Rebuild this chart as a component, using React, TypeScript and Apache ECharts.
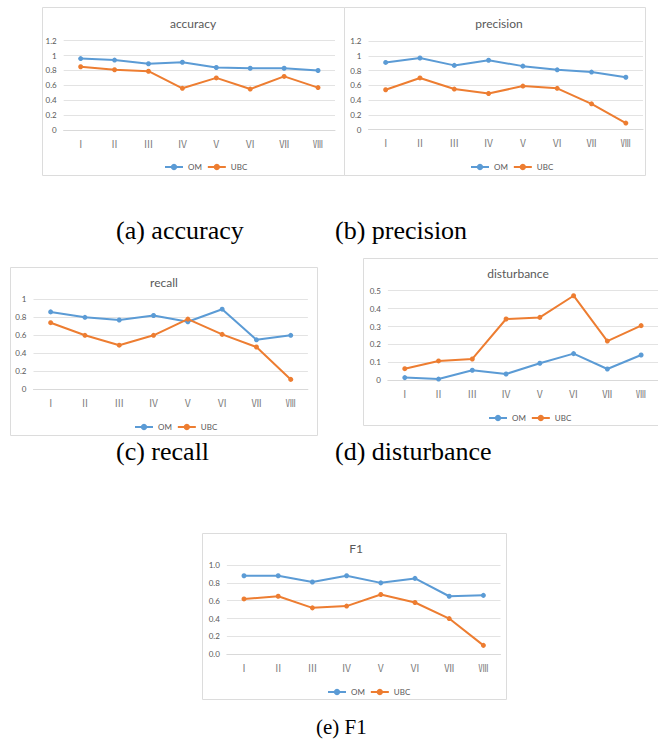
import React, { useEffect, useRef } from "react";
import * as echarts from "echarts";

const categories = ["Ⅰ", "Ⅱ", "Ⅲ", "Ⅳ", "Ⅴ", "Ⅵ", "Ⅶ", "Ⅷ"];
const seriesNames = ["OM", "UBC"];

const accuracyOM = [0.96, 0.94, 0.89, 0.91, 0.84, 0.83, 0.83, 0.8];
const accuracyUBC = [0.85, 0.81, 0.79, 0.56, 0.7, 0.55, 0.72, 0.57];
const precisionOM = [0.91, 0.97, 0.87, 0.94, 0.86, 0.81, 0.78, 0.71];
const precisionUBC = [0.54, 0.7, 0.55, 0.49, 0.59, 0.56, 0.35, 0.09];
const recallOM = [0.86, 0.8, 0.77, 0.82, 0.75, 0.89, 0.55, 0.6];
const recallUBC = [0.74, 0.6, 0.49, 0.6, 0.78, 0.61, 0.47, 0.11];
const disturbanceOM = [0.015, 0.007, 0.056, 0.035, 0.095, 0.149, 0.063, 0.141];
const disturbanceUBC = [0.065, 0.108, 0.119, 0.342, 0.351, 0.472, 0.219, 0.305];
const f1OM = [0.88, 0.88, 0.81, 0.88, 0.8, 0.85, 0.65, 0.66];
const f1UBC = [0.62, 0.65, 0.52, 0.54, 0.67, 0.58, 0.4, 0.1];

const titles = ["accuracy", "precision", "recall", "disturbance", "F1"];
const captions = ["(a) accuracy", "(b) precision", "(c) recall", "(d) disturbance", "(e) F1"];
const yMax = [1.2, 1.2, 1, 0.5, 1];
const yInterval = [0.2, 0.2, 0.2, 0.1, 0.2];
const yDecimals = [-1, -1, -1, -1, 1];

const omData = [accuracyOM, precisionOM, recallOM, disturbanceOM, f1OM];
const ubcData = [accuracyUBC, precisionUBC, recallUBC, disturbanceUBC, f1UBC];

// layout (positions only)
const panels = [
  { box: [42, 7, 302, 168], grid: [63.7, 40.7, 271.3, 89.3], title: [193, 23], legend: [159, 162], caption: [116, 230, 26] },
  { box: [344, 7, 301, 168], grid: [368.5, 41, 274.5, 88.7], title: [499, 23], legend: [465, 162], caption: [335, 230, 26] },
  { box: [10, 267, 307, 168], grid: [33.5, 299.3, 274.4, 90], title: [164, 282], legend: [129, 422], caption: [116, 451, 26] },
  { box: [363, 258, 300, 167], grid: [387.9, 290.7, 274.9, 89.6], title: [518, 273.5], legend: [483, 413], caption: [335, 451, 26] },
  { box: [202, 533, 304, 166], grid: [226.9, 565, 273.6, 89.3], title: [356, 548.5], legend: [322, 687], caption: [316, 727, 21] },
];

const BLUE = "#5b9bd5";
const ORANGE = "#ed7d31";
const GRAY = "#595959";

export default function App() {
  const ref = useRef<HTMLDivElement>(null);
  useEffect(() => {
    if (!ref.current) return;
    const chart = echarts.init(ref.current, undefined, { renderer: "svg" });
    const grid: any[] = [];
    const xAxis: any[] = [];
    const yAxis: any[] = [];
    const series: any[] = [];
    const legend: any[] = [];
    const graphic: any[] = [];
    panels.forEach((p, i) => {
      grid.push({ left: p.grid[0], top: p.grid[1], width: p.grid[2], height: p.grid[3] });
      xAxis.push({
        type: "category",
        gridIndex: i,
        data: categories,
        boundaryGap: true,
        axisLine: { show: true, lineStyle: { color: "#d9d9d9", width: 1 } },
        axisTick: { show: false },
        axisLabel: { color: "#7f7f7f", fontSize: 10, fontFamily: "Noto Sans CJK SC", margin: 8 },
      });
      yAxis.push({
        type: "value",
        gridIndex: i,
        min: 0,
        max: yMax[i],
        interval: yInterval[i],
        axisLine: { show: false },
        axisTick: { show: false },
        splitLine: { lineStyle: { color: "#e3e3e3", width: 1 } },
        axisLabel: {
          color: GRAY,
          fontSize: 8,
          fontFamily: "Lato",
          margin: 7,
          formatter: (v: number) => (yDecimals[i] > 0 ? v.toFixed(yDecimals[i]) : String(Math.round(v * 10) / 10)),
        },
      });
      [omData[i], ubcData[i]].forEach((d, k) => {
        series.push({
          type: "line",
          name: seriesNames[k],
          xAxisIndex: i,
          yAxisIndex: i,
          data: d,
          symbol: "circle",
          symbolSize: 5,
          lineStyle: { width: 2, color: k === 0 ? BLUE : ORANGE },
          itemStyle: { color: k === 0 ? BLUE : ORANGE },
        });
      });
      legend.push({
        data: seriesNames,
        left: p.legend[0],
        top: p.legend[1] - 4,
        itemWidth: 18,
        itemHeight: 8,
        itemGap: 5,
        textStyle: { color: GRAY, fontSize: 8, fontFamily: "Lato" },
        selectedMode: false,
      });
      graphic.push({
        type: "rect",
        shape: { x: p.box[0] + 0.5, y: p.box[1] + 0.5, width: p.box[2], height: p.box[3] },
        style: { fill: "none", stroke: "#dcdcdc", lineWidth: 1 },
        silent: true,
        z: -10,
      });
      graphic.push({
        type: "text",
        x: p.title[0],
        y: p.title[1],
        style: {
          text: titles[i],
          fill: GRAY,
          fontSize: 12,
          fontFamily: "Lato",
          textAlign: "center",
          textVerticalAlign: "middle",
        },
      });
      graphic.push({
        type: "text",
        x: p.caption[0],
        y: p.caption[1],
        style: {
          text: captions[i],
          fill: "#000",
          fontSize: p.caption[2],
          fontFamily: "Liberation Serif",
          textAlign: "left",
          textVerticalAlign: "middle",
        },
      });
    });
    chart.setOption({
      animation: false,
      backgroundColor: "#fff",
      grid,
      xAxis,
      yAxis,
      series,
      legend,
      graphic,
    });
    return () => chart.dispose();
  }, []);
  return <div ref={ref} style={{ position: "absolute", left: 0, top: 0, width: 658, height: 744 }} />;
}
